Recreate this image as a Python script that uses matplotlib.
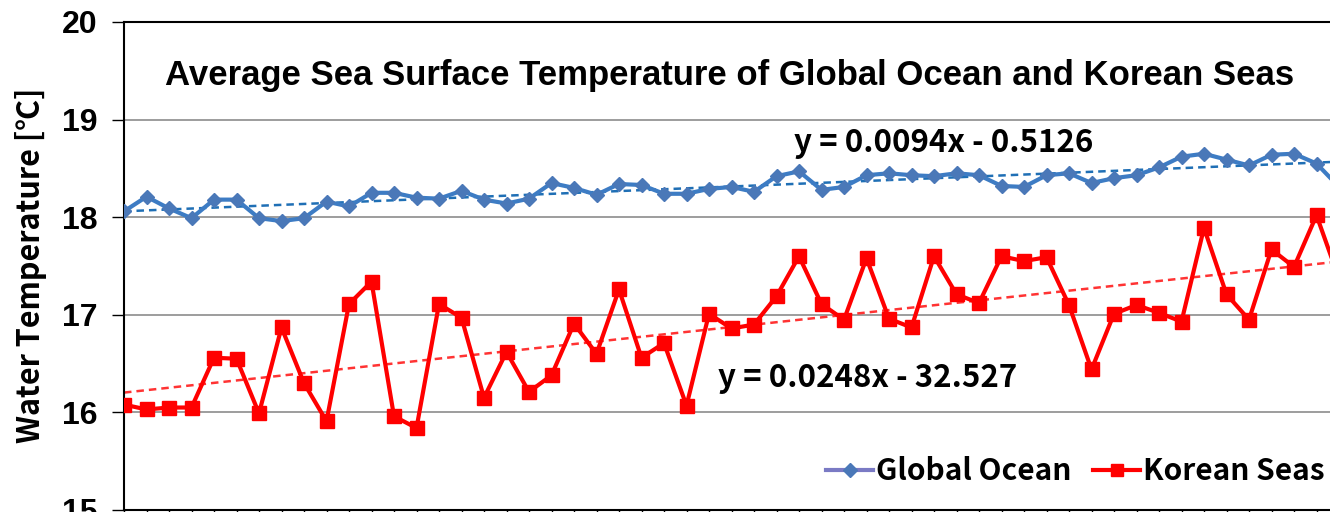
#!/usr/bin/env python3
'''
Average sea surface temperature of the global ocean and Korean seas,
with linear trend lines (Excel style, cropped on the right).
'''

import numpy as np
import matplotlib
matplotlib.use('Agg')
import matplotlib.pyplot as plt
from matplotlib.lines import Line2D

years = list(range(1968, 2023))

global_ocean = [18.06, 18.21, 18.09, 17.99, 18.18, 18.18, 17.99, 17.96, 17.99, 18.16,
                18.11, 18.25, 18.25, 18.20, 18.19, 18.27, 18.18, 18.14, 18.19, 18.35,
                18.30, 18.23, 18.34, 18.33, 18.24, 18.24, 18.29, 18.31, 18.26, 18.42,
                18.47, 18.28, 18.31, 18.43, 18.45, 18.43, 18.42, 18.45, 18.43, 18.32,
                18.31, 18.43, 18.45, 18.35, 18.40, 18.43, 18.51, 18.62, 18.65, 18.59,
                18.53, 18.64, 18.65, 18.55, 18.31]

korean_seas = [16.08, 16.03, 16.05, 16.05, 16.56, 16.55, 15.99, 16.87, 16.30, 15.91,
               17.11, 17.34, 15.96, 15.84, 17.11, 16.97, 16.15, 16.62, 16.21, 16.38,
               16.91, 16.60, 17.26, 16.56, 16.71, 16.07, 17.01, 16.86, 16.90, 17.19,
               17.60, 17.11, 16.95, 17.58, 16.96, 16.87, 17.60, 17.21, 17.12, 17.60,
               17.55, 17.59, 17.10, 16.44, 17.01, 17.10, 17.02, 16.93, 17.89, 17.21,
               16.95, 17.67, 17.49, 18.02, 17.37]

yticks = [15, 16, 17, 18, 19, 20]

title = 'Average Sea Surface Temperature of Global Ocean and Korean Seas'
eq_global = 'y = 0.0094x - 0.5126'
eq_korean = 'y = 0.0248x - 32.527'

BLUE = '#3d7cc4'
RED = '#ff0000'
KFONT = ['Noto Sans CJK KR', 'DejaVu Sans']


def main():
    fig = plt.figure(figsize=(13.3, 5.12), dpi=100)
    W, H = 1330, 512
    left, top, bottom = 124, 22, 510
    unit = 22.5
    width = unit * (years[-1] - years[0])
    ax = fig.add_axes([left / W, (H - bottom) / H, width / W, (bottom - top) / H])

    x = np.array(years, dtype=float)

    # trend lines
    for vals, col in ((global_ocean, '#1f6fb5'), (korean_seas, '#ff3333')):
        k, b = np.polyfit(x, vals, 1)
        ax.plot(x, k * x + b, ls=(0, (3, 2)), color=col, lw=1.8, zorder=2)

    ax.plot(x, global_ocean, color=BLUE, lw=3, marker='D', ms=7,
            mfc='#4a78b8', mec='#4a78b8', zorder=3)
    ax.plot(x, korean_seas, color=RED, lw=3, marker='s', ms=10,
            mfc=RED, mec=RED, zorder=4)

    ax.set_xlim(years[0], years[-1])
    ax.set_ylim(15, 20)
    ax.set_yticks(yticks)
    ax.set_yticklabels([str(v) for v in yticks], fontsize=23,
                       fontweight='bold', family='Liberation Sans')
    ax.set_xticks(years)
    ax.set_xticklabels([])
    ax.tick_params(axis='y', length=9, width=1, pad=10, direction='out')
    ax.tick_params(axis='x', length=5, width=1, direction='out')
    ax.yaxis.grid(True, color='#8c8c8c', lw=1.2)
    ax.set_axisbelow(True)
    for s in ax.spines.values():
        s.set_color('black')
        s.set_linewidth(1.5)

    fig.text(31 / W, 1 - 265 / H, 'Water Temperature [℃]', rotation=90,
             ha='center', va='center', fontsize=22, fontweight='bold',
             family=KFONT)

    fig.text(730 / W, 1 - 75 / H, title, ha='center', va='center',
             fontsize=25, fontweight='bold', family='Liberation Sans')

    fig.text(944 / W, 1 - 143 / H, eq_global, ha='center', va='center',
             fontsize=22.5, fontweight='bold', family=KFONT)
    fig.text(868 / W, 1 - 378 / H, eq_korean, ha='center', va='center',
             fontsize=22.5, fontweight='bold', family=KFONT)

    handles = [Line2D([], [], color='#7a7ac4', lw=3, marker='D', ms=7,
                      mfc='#4a78b8', mec='#4a78b8'),
               Line2D([], [], color=RED, lw=3, marker='s', ms=9,
                      mfc=RED, mec=RED)]
    fig.legend(handles, ['Global Ocean', 'Korean Seas'],
               loc='center right', bbox_to_anchor=(1337 / W, 1 - 471 / H),
               ncol=2, frameon=False, handlelength=1.6, handletextpad=0.1,
               columnspacing=0.7, borderaxespad=0,
               prop={'family': KFONT, 'weight': 'bold', 'size': 21.5})

    fig.savefig('out.png', dpi=100)


if __name__ == '__main__':
    main()
